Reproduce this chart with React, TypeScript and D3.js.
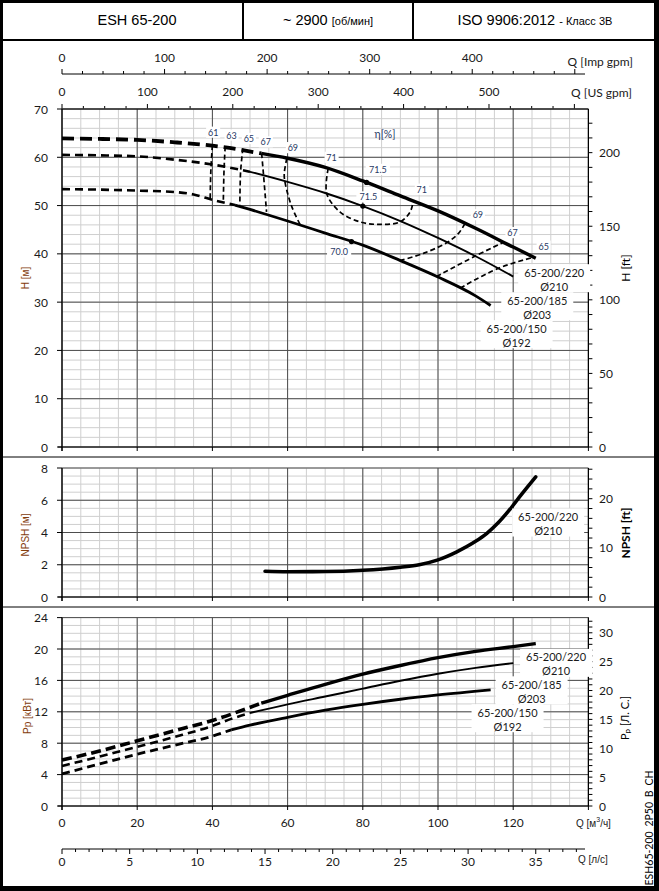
import * as d3 from 'd3';

// ---- data (Q in m3/h) ----
const headQ220 = [0, 10, 20, 30, 40, 53, 60, 70, 80, 90, 100, 110, 120, 126];
const headH220 = [63.9, 63.8, 63.6, 63.1, 62.4, 60.8, 59.8, 57.9, 55.1, 52.0, 48.9, 45.3, 41.4, 39.1];
const headQ185 = [0, 10, 20, 30, 40, 50, 60, 70, 80, 90, 100, 110, 120];
const headH185 = [60.5, 60.4, 60.2, 59.5, 58.5, 57.0, 54.9, 52.6, 49.9, 46.8, 43.3, 39.5, 35.3];
const headQ150 = [0, 10, 20, 30, 35, 40, 46, 50, 60, 70, 80, 90, 100, 110, 114];
const headH150 = [53.4, 53.3, 53.1, 52.8, 52.3, 51.2, 50.1, 49.2, 46.8, 44.3, 41.8, 38.6, 35.2, 31.3, 29.3];

const npshQ = [54, 60, 70, 80, 90, 95, 100, 105, 110, 113, 116, 119, 122, 126];
const npshM = [1.6, 1.57, 1.58, 1.66, 1.85, 2.0, 2.3, 2.8, 3.45, 3.95, 4.6, 5.4, 6.3, 7.45];

const powQ220 = [0, 10, 20, 30, 40, 53, 60, 70, 80, 90, 100, 110, 120, 126];
const powP220 = [5.85, 7.0, 8.3, 9.6, 10.9, 13.1, 14.1, 15.5, 16.8, 17.9, 18.9, 19.7, 20.3, 20.7];
const powQ185 = [0, 10, 20, 30, 40, 45, 50, 60, 70, 80, 90, 100, 110, 120];
const powP185 = [5.1, 6.3, 7.55, 8.8, 10.2, 11.1, 11.85, 12.95, 13.95, 14.95, 15.95, 16.85, 17.6, 18.2];
const powQ150 = [0, 10, 20, 30, 40, 45, 50, 60, 70, 80, 90, 100, 114];
const powP150 = [4.1, 5.35, 6.6, 7.75, 8.9, 9.7, 10.3, 11.3, 12.2, 12.95, 13.6, 14.15, 14.8];

// where the dashed (extrapolated) part ends
const splitQ = { d220: 53, d185: 50, d150: 46, p220: 53, p185: 50, p150: 45 };

// efficiency iso-lines, [Q, H]
const eff61 = [[40.0, 62.5], [39.6, 57.5], [39.4, 51.2]];
const eff63 = [[43.4, 62.2], [43.1, 57.5], [42.9, 50.7]];
const eff65L = [[48.1, 61.8], [47.5, 57.0], [47.3, 50.1]];
const eff67L = [[53.1, 60.8], [53.6, 56.3], [54.4, 48.7]];
const eff69L = [[59.8, 59.8], [59.1, 56.5], [59.4, 54.5], [61.0, 50.0], [63.3, 46.1]];
const eff71 = [[70.8, 57.7], [70.4, 52.5], [73.9, 48.7], [79.3, 46.6], [84.6, 46.1], [89.9, 46.6], [92.6, 48.7], [93.4, 50.9]];
const eff69R = [[89.9, 38.6], [96.1, 40.1], [102.3, 42.3], [105.4, 44.2], [107.2, 46.3]];
const eff67R = [[99.6, 35.3], [109.8, 39.5], [117.4, 42.4]];
const eff65R = [[105.9, 32.9], [116.0, 37.0], [125.4, 39.3]];
const effLines = [eff61, eff63, eff65L, eff67L, eff69L, eff71, eff69R, eff67R, eff65R];

const effLabels = ['61', '63', '65', '67', '69', '71', '71.5', '71', '71.5', '70.0', '69', '67', '65'];
const effLabelQ = [40.2, 45.1, 49.7, 54.2, 61.4, 71.7, 84.0, 95.7, 81.5, 73.7, 110.6, 119.8, 128.1];
const effLabelH = [65.2, 64.6, 63.9, 63.2, 62.0, 60.0, 57.5, 53.4, 51.8, 40.4, 48.1, 44.4, 41.6];

// best efficiency points on each diameter
const bepQ = [81, 80, 77];

const curveNames = ['65-200/220', '65-200/185', '65-200/150'];
const curveDiams = ['Ø210', 'Ø203', 'Ø192'];

const yTicksH = [0, 10, 20, 30, 40, 50, 60, 70];
const yTicksFt = [0, 50, 100, 150, 200];
const yTicksN = [0, 2, 4, 6, 8];
const yTicksNft = [0, 10, 20];
const yTicksP = [0, 4, 8, 12, 16, 20, 24];
const yTicksHp = [0, 5, 10, 15, 20, 25, 30];
const qTicks = [0, 20, 40, 60, 80, 100, 120];
const lsTicks = [0, 5, 10, 15, 20, 25, 30, 35];
const usTicks = [0, 100, 200, 300, 400, 500];
const impTicks = [0, 100, 200, 300, 400];

const FT = 0.3048;
const HP = 0.7355;
const US = 4.4029;
const IMP = 3.6662;

const CAL = 'Lato, "Open Sans", sans-serif';
const ARIAL = '"Liberation Sans", Arial, sans-serif';
const BROWN = '#843c0c';
const NAVY = '#1f3864';

function zip(q: number[], v: number[]) {
  return q.map((d, i) => [d, v[i]] as [number, number]);
}

export default function App() {
  const x = d3.scaleLinear().domain([0, 140]).range([62, 588.4]);
  const yH = d3.scaleLinear().domain([0, 70]).range([447, 109]);
  const yN = d3.scaleLinear().domain([0, 8]).range([597, 468]);
  const yP = d3.scaleLinear().domain([0, 24]).range([806, 617.6]);
  const xUS = d3.scaleLinear().domain([0, 140 * US]).range(x.range());
  const xImp = d3.scaleLinear().domain([0, 140 * IMP]).range(x.range());
  const xLs = d3.scaleLinear().domain([0, 140 / 3.6]).range(x.range());
  const [L, R] = x.range();

  const lineH = d3.line<[number, number]>().x((d) => x(d[0])).y((d) => yH(d[1])).curve(d3.curveMonotoneX);
  const lineN = d3.line<[number, number]>().x((d) => x(d[0])).y((d) => yN(d[1])).curve(d3.curveMonotoneX);
  const lineP = d3.line<[number, number]>().x((d) => x(d[0])).y((d) => yP(d[1])).curve(d3.curveMonotoneX);
  const lineEff = d3.line<number[]>().x((d) => x(d[0])).y((d) => yH(d[1])).curve(d3.curveCatmullRom.alpha(0.5));

  const heads = [
    { pts: zip(headQ220, headH220), split: splitQ.d220, w: 3.4, dw: 3.8, dash: '12 6' },
    { pts: zip(headQ185, headH185), split: splitQ.d185, w: 1.9, dw: 2.6, dash: '8 5' },
    { pts: zip(headQ150, headH150), split: splitQ.d150, w: 2.8, dw: 2.6, dash: '8 5' },
  ];
  const powers = [
    { pts: zip(powQ220, powP220), split: splitQ.p220, w: 3.4, dw: 3.6, dash: '10 5' },
    { pts: zip(powQ185, powP185), split: splitQ.p185, w: 1.9, dw: 2.6, dash: '8 5' },
    { pts: zip(powQ150, powP150), split: splitQ.p150, w: 2.8, dw: 2.8, dash: '8 5' },
  ];
  const bepH = [
    d3.scaleLinear().domain(headQ220).range(headH220)(bepQ[0]),
    d3.scaleLinear().domain(headQ185).range(headH185)(bepQ[1]),
    d3.scaleLinear().domain(headQ150).range(headH150)(bepQ[2]),
  ];

  const vMinor = d3.range(0, 140.1, 5);
  const vMajor = d3.range(0, 140.1, 20);

  const panel = (y: d3.ScaleLinear<number, number>, max: number, minor: number, major: number) => {
    const [b, t] = y.range();
    return (
      <g>
        {d3.range(0, max + 1e-6, minor).map((v) => (
          <line key={'hm' + v} x1={L} x2={R} y1={y(v)} y2={y(v)} stroke="#cfcfcf" strokeWidth={1} />
        ))}
        {vMinor.map((v) => (
          <line key={'vm' + v} x1={x(v)} x2={x(v)} y1={t} y2={b} stroke="#cfcfcf" strokeWidth={1} />
        ))}
        {d3.range(0, max + 1e-6, major).map((v) => (
          <line key={'hM' + v} x1={L} x2={R} y1={y(v)} y2={y(v)} stroke="#4d4d4d" strokeWidth={1} />
        ))}
        {vMajor.map((v) => (
          <line key={'vM' + v} x1={x(v)} x2={x(v)} y1={t} y2={b} stroke="#4d4d4d" strokeWidth={1} />
        ))}
        <line x1={L} x2={L} y1={t} y2={b + 4} stroke="#000" strokeWidth={1.2} />
        <line x1={R} x2={R} y1={t} y2={b} stroke="#000" strokeWidth={1.2} />
        <line x1={L - 4} x2={R} y1={b} y2={b} stroke="#000" strokeWidth={1.2} />
        {vMajor.map((v) => (
          <line key={'tk' + v} x1={x(v)} x2={x(v)} y1={b} y2={b + 4} stroke="#000" />
        ))}
      </g>
    );
  };

  const leftAxis = (y: d3.ScaleLinear<number, number>, ticks: number[]) => (
    <g fontFamily={CAL} fontSize={12} fill="#1a1a1a">
      {ticks.map((v) => (
        <g key={v}>
          <line x1={L - 5} x2={L} y1={y(v)} y2={y(v)} stroke="#000" />
          <text x={48} y={y(v)} textAnchor="end" dominantBaseline="central">{v}</text>
        </g>
      ))}
    </g>
  );

  const rightAxis = (y: d3.ScaleLinear<number, number>, factor: number, step: number, max: number, labels: number[]) => (
    <g fontFamily={CAL} fontSize={12} fill="#1a1a1a">
      {d3.range(0, max + 1e-6, step).map((v) => (
        <line key={'t' + v} x1={R} x2={R + 4} y1={y(v * factor)} y2={y(v * factor)} stroke="#000" />
      ))}
      {labels.map((v) => (
        <text key={v} x={599} y={y(v * factor)} dominantBaseline="central">{v}</text>
      ))}
    </g>
  );

  const boxLabel = (key: string, txt: string, cx: number, cy: number, fs: number, fill: string, pad = 2) => {
    const w = txt.length * fs * 0.56 + pad * 2;
    return (
      <g key={key}>
        <rect x={cx - w / 2} y={cy - fs * 0.62} width={w} height={fs * 1.24} fill="#fff" />
        <text x={cx} y={cy} textAnchor="middle" dominantBaseline="central" fontSize={fs} fill={fill}>{txt}</text>
      </g>
    );
  };

  const curveLabel = (key: string, i: number, cx: number, cy: number) => (
    <g key={key} fontFamily={CAL}>
      <rect x={cx - 36} y={cy - 8} width={72} height={28} fill="#fff" />
      <text x={cx} y={cy} textAnchor="middle" dominantBaseline="central" fontSize={11} fill="#1a1a1a">{curveNames[i]}</text>
      <text x={cx} y={cy + 14} textAnchor="middle" dominantBaseline="central" fontSize={11} fill="#1a1a1a">{curveDiams[i]}</text>
    </g>
  );

  const drawSplit = (
    gen: d3.Line<[number, number]>,
    c: { pts: [number, number][]; split: number; w: number; dw: number; dash: string },
    key: string
  ) => (
    <g key={key} fill="none" stroke="#000">
      <path d={gen(c.pts.filter((p) => p[0] <= c.split)) || ''} strokeWidth={c.dw} strokeDasharray={c.dash} />
      <path d={gen(c.pts.filter((p) => p[0] >= c.split)) || ''} strokeWidth={c.w} />
    </g>
  );

  return (
    <svg width={659} height={891} style={{ position: 'absolute', left: 0, top: 0, background: '#fff' }}>
      <rect x={0} y={0} width={659} height={891} fill="#fff" />

      {/* header */}
      <g fontFamily={ARIAL} fill="#000">
        <text x={137} y={25} textAnchor="middle" fontSize={14.5}>ESH 65-200</text>
        <text x={328} y={25} textAnchor="middle" fontSize={14.5}>
          ~ 2900 <tspan fontSize={11}>[об/мин]</tspan>
        </text>
        <text x={535} y={25} textAnchor="middle" fontSize={14.5}>
          ISO 9906:2012 <tspan fontSize={11}>- Класс 3В</tspan>
        </text>
      </g>
      <line x1={0} x2={659} y1={40} y2={40} stroke="#000" strokeWidth={2} />
      <line x1={243} x2={243} y1={0} y2={40} stroke="#000" strokeWidth={2} />
      <line x1={413} x2={413} y1={0} y2={40} stroke="#000" strokeWidth={2} />

      {/* top secondary axes */}
      <g fontFamily={CAL} fontSize={12} fill="#1a1a1a">
        <line x1={L} x2={585} y1={74} y2={74} stroke="#000" />
        {d3.range(0, 140 * IMP, 20).map((v) => (
          <line key={'i' + v} x1={xImp(v)} x2={xImp(v)} y1={74} y2={v % 100 === 0 ? 69 : 71} stroke="#000" />
        ))}
        {impTicks.map((v) => (
          <text key={'it' + v} x={xImp(v)} y={57} textAnchor="middle" dominantBaseline="central">{v}</text>
        ))}
        <text x={633} y={61} textAnchor="end" dominantBaseline="central">Q [Imp gpm]</text>
        {d3.range(0, 140 * US, 25).map((v) => (
          <line key={'u' + v} x1={xUS(v)} x2={xUS(v)} y1={109} y2={v % 100 === 0 ? 104 : 106} stroke="#000" />
        ))}
        {usTicks.map((v) => (
          <text key={'ut' + v} x={xUS(v)} y={91} textAnchor="middle" dominantBaseline="central">{v}</text>
        ))}
        <text x={632} y={92} textAnchor="end" dominantBaseline="central">Q [US gpm]</text>
      </g>

      {/* H panel */}
      {panel(yH, 70, 2, 10)}
      <line x1={L} x2={R} y1={109} y2={109} stroke="#000" strokeWidth={1.2} />
      {leftAxis(yH, yTicksH)}
      {rightAxis(yH, FT, 10, 229, yTicksFt)}

      {effLines.map((pts, i) => (
        <path key={'e' + i} d={lineEff(pts) || ''} fill="none" stroke="#000" strokeWidth={1.7} strokeDasharray="5 3" />
      ))}
      {heads.map((c, i) => drawSplit(lineH, c, 'h' + i))}
      {bepQ.map((q, i) => (
        <circle key={'b' + i} cx={x(q)} cy={yH(bepH[i])} r={2.6} fill="#000" />
      ))}
      <g fontFamily={CAL}>
        {effLabels.map((t, i) => boxLabel('el' + i, t, x(effLabelQ[i]), yH(effLabelH[i]), 9, NAVY))}
        <text x={385} y={134} textAnchor="middle" dominantBaseline="central" fontSize={10.5} fill={NAVY}>η[%]</text>
      </g>
      {curveLabel('cl0', 0, x(130.9), yH(36.2))}
      {curveLabel('cl1', 1, x(126.4), yH(30.4))}
      {curveLabel('cl2', 2, x(120.9), yH(24.6))}

      {/* NPSH panel */}
      <line x1={0} x2={659} y1={457} y2={457} stroke="#000" strokeWidth={1} />
      {panel(yN, 8, 0.5, 2)}
      {leftAxis(yN, yTicksN)}
      {rightAxis(yN, FT, 2, 26, yTicksNft)}
      <path d={lineN(zip(npshQ, npshM)) || ''} fill="none" stroke="#000" strokeWidth={3.6} strokeLinecap="round" />
      {curveLabel('cln', 0, x(129.3), yN(4.99))}

      {/* power panel */}
      <line x1={0} x2={659} y1={607} y2={607} stroke="#000" strokeWidth={1} />
      {panel(yP, 24, 1, 4)}
      {leftAxis(yP, yTicksP)}
      {rightAxis(yP, HP, 1, 32, yTicksHp)}
      {powers.map((c, i) => drawSplit(lineP, c, 'p' + i))}
      {curveLabel('cp0', 0, x(131.4), yP(19.0))}
      {curveLabel('cp1', 1, x(124.9), yP(15.5))}
      {curveLabel('cp2', 2, x(118.5), yP(11.95))}

      {/* bottom axes */}
      <g fontFamily={CAL} fontSize={12} fill="#1a1a1a">
        {qTicks.map((v) => (
          <text key={'q' + v} x={x(v)} y={822} textAnchor="middle" dominantBaseline="central">{v}</text>
        ))}
        <line x1={L} x2={585} y1={849} y2={849} stroke="#000" />
        {d3.range(0, 140 / 3.6, 1).map((v) => (
          <line key={'l' + v} x1={xLs(v)} x2={xLs(v)} y1={849} y2={v % 5 === 0 ? 854 : 852} stroke="#000" />
        ))}
        {lsTicks.map((v) => (
          <text key={'lt' + v} x={xLs(v)} y={861} textAnchor="middle" dominantBaseline="central">{v}</text>
        ))}
      </g>
      <g fontFamily={ARIAL} fontSize={10} fill="#1a1a1a">
        <text x={576} y={823} dominantBaseline="central">Q [м<tspan fontSize={7} dy={-4}>3</tspan><tspan dy={4}>/ч]</tspan></text>
        <text x={578} y={859} dominantBaseline="central">Q [л/с]</text>
      </g>

      {/* axis titles */}
      <g fontFamily={ARIAL} fontSize={10} fill={BROWN}>
        <text transform="translate(25,278) rotate(-90)" textAnchor="middle" dominantBaseline="central">H [м]</text>
        <text transform="translate(25,535) rotate(-90)" textAnchor="middle" dominantBaseline="central">NPSH [м]</text>
        <text transform="translate(27,716) rotate(-90)" textAnchor="middle" dominantBaseline="central">Pp [кВт]</text>
      </g>
      <g fontFamily={CAL} fontSize={12} fill="#000">
        <text transform="translate(625,268) rotate(-90)" textAnchor="middle" dominantBaseline="central">H [ft]</text>
        <text transform="translate(625,533) rotate(-90)" textAnchor="middle" dominantBaseline="central" fontWeight="bold">NPSH [ft]</text>
        <text transform="translate(624,718) rotate(-90)" textAnchor="middle" dominantBaseline="central" fontSize={11}>
          P<tspan fontSize={8} dy={3}>p</tspan><tspan dy={-3}> [Л. С.]</tspan>
        </text>
        <text transform="translate(649,828) rotate(-90)" textAnchor="middle" dominantBaseline="central" fontSize={10.5}>ESH65-200_2P50_B_CH</text>
      </g>

      {/* outer frame */}
      <rect x={1.5} y={1.5} width={654} height={886} fill="none" stroke="#000" strokeWidth={3} />
      <rect x={655} y={0} width={4} height={891} fill="#000" />
      <rect x={0} y={887} width={659} height={4} fill="#000" />
    </svg>
  );
}
